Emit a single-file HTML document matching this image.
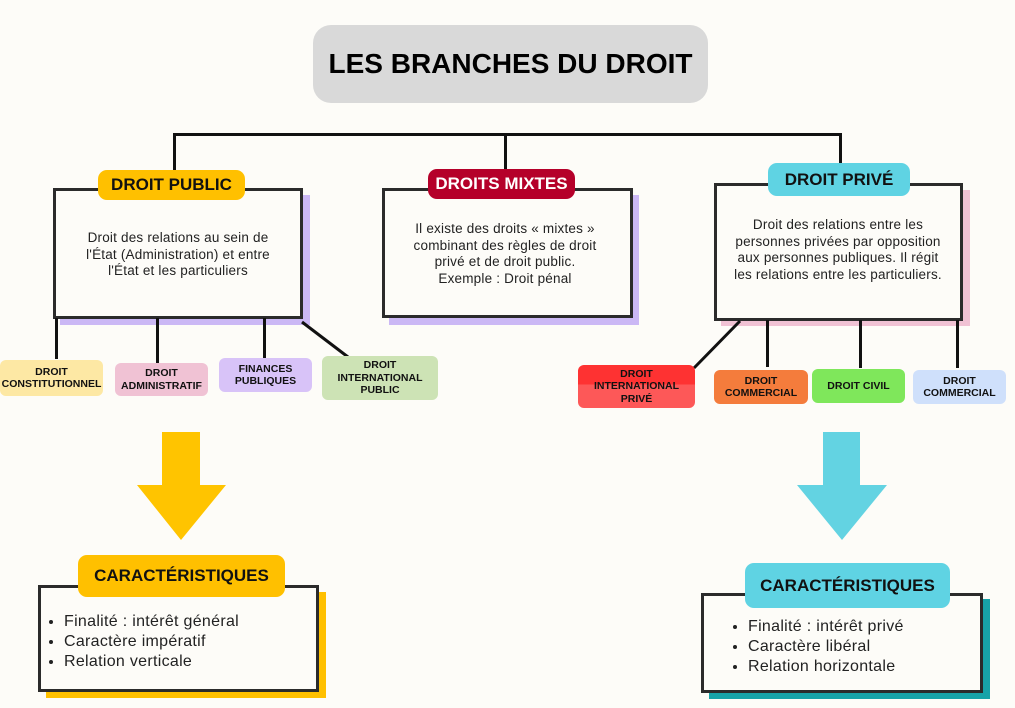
<!DOCTYPE html>
<html><head><meta charset="utf-8"><style>
body{margin:0;width:1015px;height:708px;background:#fdfcf8;position:relative;overflow:hidden;font-family:"Liberation Sans",sans-serif;color:#111}
.a{position:absolute}
.box{position:absolute;border:3px solid #2b2b2b;background:#fdfcf8;box-sizing:border-box}
.lbl{position:absolute;border-radius:9px;font-weight:bold;display:flex;align-items:center;justify-content:center;text-align:center}
.tag{position:absolute;border-radius:6px;font-weight:bold;font-size:10.5px;line-height:12.5px;display:flex;align-items:center;justify-content:center;text-align:center}
.txt{position:absolute;text-align:center;font-size:13.5px;line-height:16.5px;color:#222;letter-spacing:0.2px}
.ln{position:absolute;background:#111}
ul{margin:0;padding-left:20px;font-size:16px;line-height:20px;color:#222;letter-spacing:0.3px}
</style></head><body>
<div class="lbl a" style="left:313px;top:25px;width:395px;height:78px;background:#d9d9d9;border-radius:18px;font-size:28px;color:#000">LES BRANCHES DU DROIT</div>

<div class="ln" style="left:174px;top:133px;width:668px;height:3px"></div>
<div class="ln" style="left:173px;top:133px;width:3px;height:40px"></div>
<div class="ln" style="left:504px;top:133px;width:3px;height:40px"></div>
<div class="ln" style="left:839px;top:133px;width:3px;height:35px"></div>

<!-- public -->
<div class="a" style="left:60px;top:195px;width:250px;height:130px;background:#cbb8f5"></div>
<div class="box" style="left:53px;top:188px;width:250px;height:131px"></div>
<div class="lbl" style="left:98px;top:170px;width:147px;height:30px;background:#ffc000;font-size:17px">DROIT PUBLIC</div>
<div class="txt" style="left:56px;top:230px;width:244px">Droit des relations au sein de<br>l'État (Administration) et entre<br>l'État et les particuliers</div>

<!-- mixtes -->
<div class="a" style="left:389px;top:195px;width:250px;height:130px;background:#cbb8f5"></div>
<div class="box" style="left:382px;top:188px;width:251px;height:130px"></div>
<div class="lbl" style="left:428px;top:169px;width:147px;height:30px;background:#b5002a;color:#fff;font-size:17px">DROITS MIXTES</div>
<div class="txt" style="left:383px;top:221px;width:244px">Il existe des droits « mixtes »<br>combinant des règles de droit<br>privé et de droit public.<br>Exemple : Droit pénal</div>

<!-- prive -->
<div class="a" style="left:721px;top:190px;width:249px;height:136px;background:#f0c2d4"></div>
<div class="box" style="left:714px;top:183px;width:249px;height:138px"></div>
<div class="lbl" style="left:768px;top:163px;width:142px;height:33px;background:#5fd3e3;font-size:17px">DROIT PRIVÉ</div>
<div class="txt" style="left:714px;top:217px;width:248px">Droit des relations entre les<br>personnes privées par opposition<br>aux personnes publiques. Il régit<br>les relations entre les particuliers.</div>

<!-- public children -->
<div class="ln" style="left:55px;top:318px;width:3px;height:41px"></div>
<div class="ln" style="left:156px;top:318px;width:3px;height:45px"></div>
<div class="ln" style="left:263px;top:318px;width:3px;height:40px"></div>
<svg class="a" style="left:0;top:0" width="1015" height="708"><line x1="302" y1="322" x2="348" y2="357" stroke="#111" stroke-width="3"/><line x1="740" y1="321" x2="694" y2="368" stroke="#111" stroke-width="3"/>
<polygon points="162,432 200,432 200,485 226,485 181,540 137,485 162,485" fill="#ffc400"/>
<polygon points="823,432 860,432 860,485 887,485 842,540 797,485 823,485" fill="#63d3e2"/></svg>
<div class="tag" style="left:0;top:360px;width:103px;height:36px;background:#fde8a4">DROIT<br>CONSTITUTIONNEL</div>
<div class="tag" style="left:115px;top:363px;width:93px;height:33px;background:#f0c2d4">DROIT<br>ADMINISTRATIF</div>
<div class="tag" style="left:219px;top:358px;width:93px;height:34px;background:#d8c3f8">FINANCES<br>PUBLIQUES</div>
<div class="tag" style="left:322px;top:356px;width:116px;height:44px;background:#cde3b5">DROIT<br>INTERNATIONAL<br>PUBLIC</div>

<!-- prive children -->
<div class="ln" style="left:766px;top:320px;width:3px;height:47px"></div>
<div class="ln" style="left:859px;top:320px;width:3px;height:48px"></div>
<div class="ln" style="left:956px;top:320px;width:3px;height:48px"></div>
<div class="tag" style="left:578px;top:365px;width:117px;height:43px;background:linear-gradient(#fe3232 0,#fe3232 45%,#fd5858 45%)">DROIT<br>INTERNATIONAL<br>PRIVÉ</div>
<div class="tag" style="left:714px;top:370px;width:94px;height:34px;background:#f47c3c">DROIT<br>COMMERCIAL</div>
<div class="tag" style="left:812px;top:369px;width:93px;height:34px;background:#7fe75b">DROIT CIVIL</div>
<div class="tag" style="left:913px;top:370px;width:93px;height:34px;background:#cfe0fb">DROIT<br>COMMERCIAL</div>

<!-- caracteristiques left -->
<div class="a" style="left:46px;top:592px;width:280px;height:106px;background:#ffc000"></div>
<div class="box" style="left:38px;top:585px;width:281px;height:107px"></div>
<div class="lbl" style="left:78px;top:555px;width:207px;height:42px;background:#ffc000;font-size:17px">CARACTÉRISTIQUES</div>
<div class="a" style="left:44px;top:612px"><ul><li>Finalité : intérêt général</li><li>Caractère impératif</li><li>Relation verticale</li></ul></div>

<!-- caracteristiques right -->
<div class="a" style="left:709px;top:599px;width:281px;height:100px;background:#17a3a8"></div>
<div class="box" style="left:701px;top:593px;width:282px;height:100px"></div>
<div class="lbl" style="left:745px;top:563px;width:205px;height:45px;background:#5fd3e3;font-size:17px">CARACTÉRISTIQUES</div>
<div class="a" style="left:728px;top:617px"><ul><li>Finalité : intérêt privé</li><li>Caractère libéral</li><li>Relation horizontale</li></ul></div>
</body></html>
